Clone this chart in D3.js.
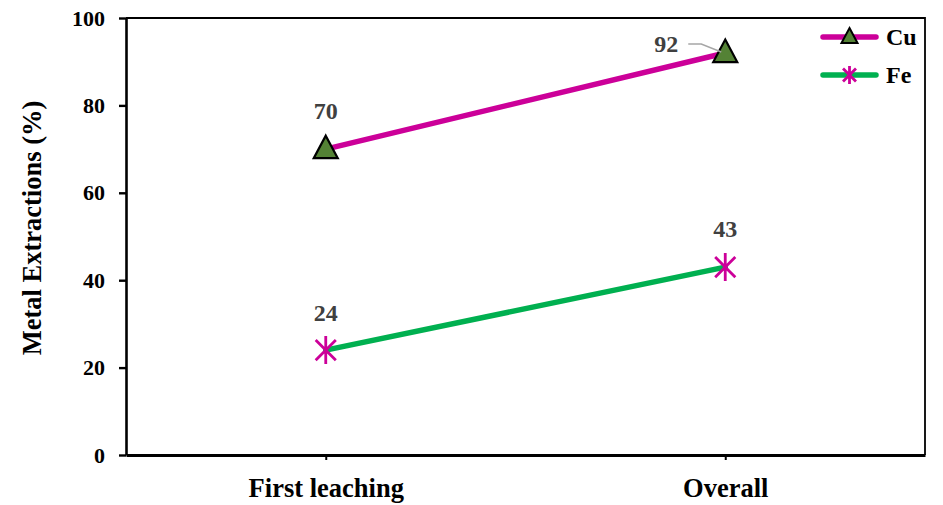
<!DOCTYPE html>
<html>
<head>
<meta charset="utf-8">
<script src="https://cdn.jsdelivr.net/npm/d3@7/dist/d3.min.js"></script>
<style>
  html, body { margin: 0; padding: 0; background: #fff; }
  svg { display: block; font-family: "Liberation Serif", "Times New Roman", serif; }
</style>
</head>
<body>
<svg id="chart" width="943" height="505"></svg>
<script>
// Metal extraction after the first leaching stage and overall
const categories = ["First leaching", "Overall"];
const cuValues = [70, 92];
const feValues = [24, 43];
const yTicks = [0, 20, 40, 60, 80, 100];
const seriesNames = ["Cu", "Fe"];

const svg = d3.select("#chart");
const plot = { left: 126, right: 925, top: 18, bottom: 455 };

const x = d3.scalePoint().domain(categories).range([plot.left, plot.right]).padding(0.5);
const y = d3.scaleLinear().domain([0, 100]).range([plot.bottom, plot.top]);

const cuColor = "#CC0099";
const feColor = "#00B050";
const triFill = "#548235";
const labelColor = "#404040";

// plot-area frame (top and right)
svg.append("path")
  .attr("d", `M${plot.left},${plot.top}H${plot.right}V${plot.bottom}`)
  .attr("fill", "none").attr("stroke", "#000").attr("stroke-width", 1.8);

// y axis
const yAxis = svg.append("g").attr("transform", `translate(${plot.left},0)`)
  .call(d3.axisLeft(y).tickValues(yTicks).tickSize(7).tickSizeOuter(0).tickPadding(14));
yAxis.select(".domain").attr("stroke-width", 2.6);
yAxis.selectAll(".tick line").attr("stroke-width", 2.4);
yAxis.selectAll(".tick text")
  .attr("font-family", "Liberation Serif, serif").attr("font-size", 22)
  .attr("font-weight", "bold").attr("fill", "#000");

// x axis
const xAxis = svg.append("g").attr("transform", `translate(0,${plot.bottom})`)
  .call(d3.axisBottom(x).tickSize(5).tickSizeOuter(0).tickPadding(18));
xAxis.select(".domain").attr("stroke-width", 3);
xAxis.selectAll(".tick line").attr("stroke-width", 2);
xAxis.selectAll(".tick text")
  .attr("font-family", "Liberation Serif, serif").attr("font-size", 26.5)
  .attr("font-weight", "bold").attr("fill", "#000");

// y axis title
svg.append("text")
  .attr("transform", "translate(41,228) rotate(-90)")
  .attr("text-anchor", "middle")
  .attr("font-size", 26.5).attr("font-weight", "bold").attr("fill", "#000")
  .text("Metal Extractions (%)");

const line = d3.line().x((d, i) => x(categories[i])).y(d => y(d));

// series lines
svg.append("path").datum(cuValues).attr("d", line)
  .attr("fill", "none").attr("stroke", cuColor).attr("stroke-width", 5.5).attr("stroke-linecap", "round");
svg.append("path").datum(feValues).attr("d", line)
  .attr("fill", "none").attr("stroke", feColor).attr("stroke-width", 5.5).attr("stroke-linecap", "round");

// marker shapes
function triangle(cx, cy, s) {
  const h = s * 0.9;
  return `M${cx},${cy - h * 0.62}L${cx + s / 2},${cy + h * 0.42}L${cx - s / 2},${cy + h * 0.42}Z`;
}
function asterisk(cx, cy, r) {
  const d = r * 0.72;
  return `M${cx},${cy - r}V${cy + r}M${cx - d},${cy - d}L${cx + d},${cy + d}M${cx - d},${cy + d}L${cx + d},${cy - d}`;
}

svg.selectAll(".cu-mark").data(cuValues).enter().append("path")
  .attr("d", (d, i) => triangle(x(categories[i]), y(d), 24))
  .attr("fill", triFill).attr("stroke", "#000").attr("stroke-width", 2.2).attr("stroke-linejoin", "miter");

svg.selectAll(".fe-mark").data(feValues).enter().append("path")
  .attr("d", (d, i) => asterisk(x(categories[i]), y(d), 14))
  .attr("fill", "none").attr("stroke", cuColor).attr("stroke-width", 2.8);

// value labels
const labelStyle = sel => sel.attr("text-anchor", "middle").attr("font-size", 24)
  .attr("font-weight", "bold").attr("fill", labelColor);

svg.append("text").call(labelStyle).attr("x", x(categories[0])).attr("y", y(cuValues[0]) - 30).text(cuValues[0]);
svg.append("text").call(labelStyle).attr("x", x(categories[0])).attr("y", y(feValues[0]) - 29).text(feValues[0]);
svg.append("text").call(labelStyle).attr("x", x(categories[1])).attr("y", y(feValues[1]) - 30).text(feValues[1]);
svg.append("text").call(labelStyle).attr("x", x(categories[1]) - 59).attr("y", y(cuValues[1]) - 1).text(cuValues[1]);
// leader line for the offset "92" label
svg.append("path")
  .attr("d", `M${x(categories[1]) - 37},${y(cuValues[1]) - 9}H${x(categories[1]) - 24}L${x(categories[1]) - 4},${y(cuValues[1]) - 1}`)
  .attr("fill", "none").attr("stroke", "#A6A6A6").attr("stroke-width", 1.5);

// legend
const legend = svg.append("g");
const legendRows = [
  { name: seriesNames[0], color: cuColor, y: 37, mark: "tri" },
  { name: seriesNames[1], color: feColor, y: 75, mark: "ast" }
];
legendRows.forEach(r => {
  legend.append("line").attr("x1", 823).attr("x2", 876).attr("y1", r.y).attr("y2", r.y)
    .attr("stroke", r.color).attr("stroke-width", 5.5).attr("stroke-linecap", "round");
  if (r.mark === "tri") {
    legend.append("path").attr("d", triangle(849.5, r.y, 16))
      .attr("fill", triFill).attr("stroke", "#000").attr("stroke-width", 2);
  } else {
    legend.append("path").attr("d", asterisk(849.5, r.y, 9))
      .attr("fill", "none").attr("stroke", cuColor).attr("stroke-width", 2.8);
  }
  legend.append("text").attr("x", 886).attr("y", r.y + 8)
    .attr("font-size", 24).attr("font-weight", "bold").attr("fill", "#000").text(r.name);
});
</script>
</body>
</html>
